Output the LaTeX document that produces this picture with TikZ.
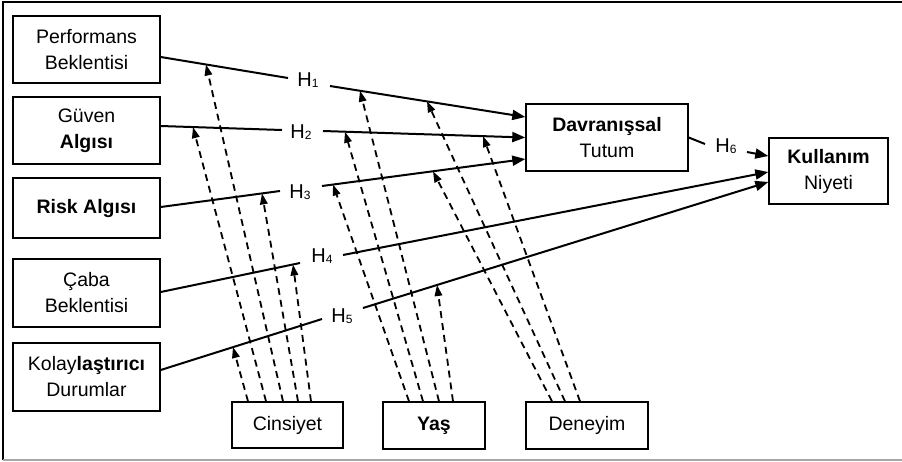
\documentclass[tikz,border=0pt]{standalone}
\usepackage{fontspec}
\setmainfont{Liberation Sans}
\usetikzlibrary{arrows.meta}
\newcommand\hlab[1]{H\raisebox{-1pt}{\fontsize{12}{12}\selectfont #1}}
\begin{document}
\begin{tikzpicture}[x=1pt,y=-1pt,
  box/.style={draw, line width=1.4pt, inner sep=0pt, align=center, font=\fontsize{19.5}{26}\selectfont},
  hl/.style={inner sep=0pt, font=\fontsize{20}{22}\selectfont},
  conn/.style={line width=2pt},
  arr/.style={line width=2pt, -{Triangle[length=13pt,width=10pt]}},
  darr/.style={line width=1.8pt, dash pattern=on 7pt off 5pt, -{Triangle[length=11pt,width=7.5pt]}}]
\fill[white] (0,0) rectangle (902,461);
\useasboundingbox (0,0) rectangle (902,461);
% frame
\draw[line width=1.3pt] (902,2) -- (3,2) -- (3,460);
\draw[gray!70, line width=1.3pt] (3,460) -- (902,460);

% left boxes
\node[box, minimum width=147pt, minimum height=67pt] (pe) at (86.5,49.5) {Performans\\Beklentisi};
\node[box, minimum width=147pt, minimum height=67pt] (ga) at (86.5,130.5) {Güven\\\textbf{Algısı}};
\node[box, minimum width=147pt, minimum height=60pt] (ra) at (86.5,208) {\textbf{Risk Algısı}};
\node[box, minimum width=147pt, minimum height=68pt] (ca) at (86.5,293) {Çaba\\Beklentisi};
\node[box, minimum width=147pt, minimum height=68pt] (kd) at (86.5,377) {Kolay\textbf{laştırıcı}\\Durumlar};
% right boxes
\node[box, minimum width=162pt, minimum height=67pt] (dt) at (607,137.5) {\textbf{Davranışsal}\\Tutum};
\node[box, minimum width=119pt, minimum height=66pt] (kn) at (828.5,171) {\textbf{Kullanım}\\Niyeti};
% bottom boxes
\node[box, minimum width=111pt, minimum height=46pt] (ci) at (287.5,425) {Cinsiyet};
\node[box, minimum width=102pt, minimum height=47pt] (ya) at (434,425.5) {\textbf{Yaş}};
\node[box, minimum width=122pt, minimum height=47pt] (de) at (587,425.5) {Deneyim};

% labels
\node[hl] (h1) at (308,80) {\hlab{1}};
\node[hl] (h2) at (301,132) {\hlab{2}};
\node[hl] (h3) at (300,192) {\hlab{3}};
\node[hl] (h4) at (322,256) {\hlab{4}};
\node[hl] (h5) at (342,316) {\hlab{5}};
\node[hl] (h6) at (726,146) {\hlab{6}};

% target points of moderator arrows
\coordinate (c1) at (233,347);
\coordinate (c2) at (193,127.1);
\coordinate (c3) at (206,64.5);
\coordinate (c4) at (262,193.4);
\coordinate (c5) at (293,264.5);
\coordinate (y1) at (333,184.5);
\coordinate (y2) at (345,131.7);
\coordinate (y3) at (360,90.7);
\coordinate (y4) at (437,285);
\coordinate (d1) at (433,171.3);
\coordinate (d2) at (427,101.3);
\coordinate (d3) at (483,136.1);

% dashed moderator arrows
\draw[darr] ([xshift=-39.5pt]ci.north) -- (c1);
\draw[darr] ([xshift=-21.5pt]ci.north) -- (c2);
\draw[darr] ([xshift=-4.5pt]ci.north) -- (c3);
\draw[darr] ([xshift=10.5pt]ci.north) -- (c4);
\draw[darr] ([xshift=23.5pt]ci.north) -- (c5);
\draw[darr] ([xshift=-25pt]ya.north) -- (y1);
\draw[darr] ([xshift=-11pt]ya.north) -- (y2);
\draw[darr] ([xshift=5pt]ya.north) -- (y3);
\draw[darr] ([xshift=19pt]ya.north) -- (y4);
\draw[darr] ([xshift=-35pt]de.north) -- (d1);
\draw[darr] ([xshift=-22pt]de.north) -- (d2);
\draw[darr] ([xshift=-7pt]de.north) -- (d3);

% hypothesis paths
\draw[conn] ([yshift=-7.5pt]pe.east) -- ([xshift=-20pt,yshift=2pt]h1.center);
\draw[arr] ([xshift=22pt,yshift=-6pt]h1.center) -- ([yshift=20.5pt]dt.west);
\draw[conn] ([yshift=4.5pt]ga.east) -- ([xshift=-19pt,yshift=2pt]h2.center);
\draw[arr] ([xshift=22pt,yshift=1pt]h2.center) -- (dt.west);
\draw[conn] ([yshift=1pt]ra.east) -- ([xshift=-20pt,yshift=1pt]h3.center);
\draw[arr] ([xshift=22pt,yshift=6pt]h3.center) -- ([yshift=-21.5pt]dt.west);
\draw[conn] ([yshift=1pt]ca.east) -- ([xshift=-22pt,yshift=-7pt]h4.center);
\draw[arr] ([xshift=21pt,yshift=1pt]h4.center) -- ([yshift=-1pt]kn.west);
\draw[conn] ([yshift=7pt]kd.east) -- ([xshift=-20pt,yshift=-3pt]h5.center);
\draw[arr] ([xshift=21pt,yshift=8pt]h5.center) -- ([yshift=-11pt]kn.west);
\draw[conn] (dt.east) -- ([xshift=-21pt,yshift=2pt]h6.center);
\draw[arr] ([xshift=21pt,yshift=-6pt]h6.center) -- ([yshift=15pt]kn.west);
\end{tikzpicture}
\end{document}
